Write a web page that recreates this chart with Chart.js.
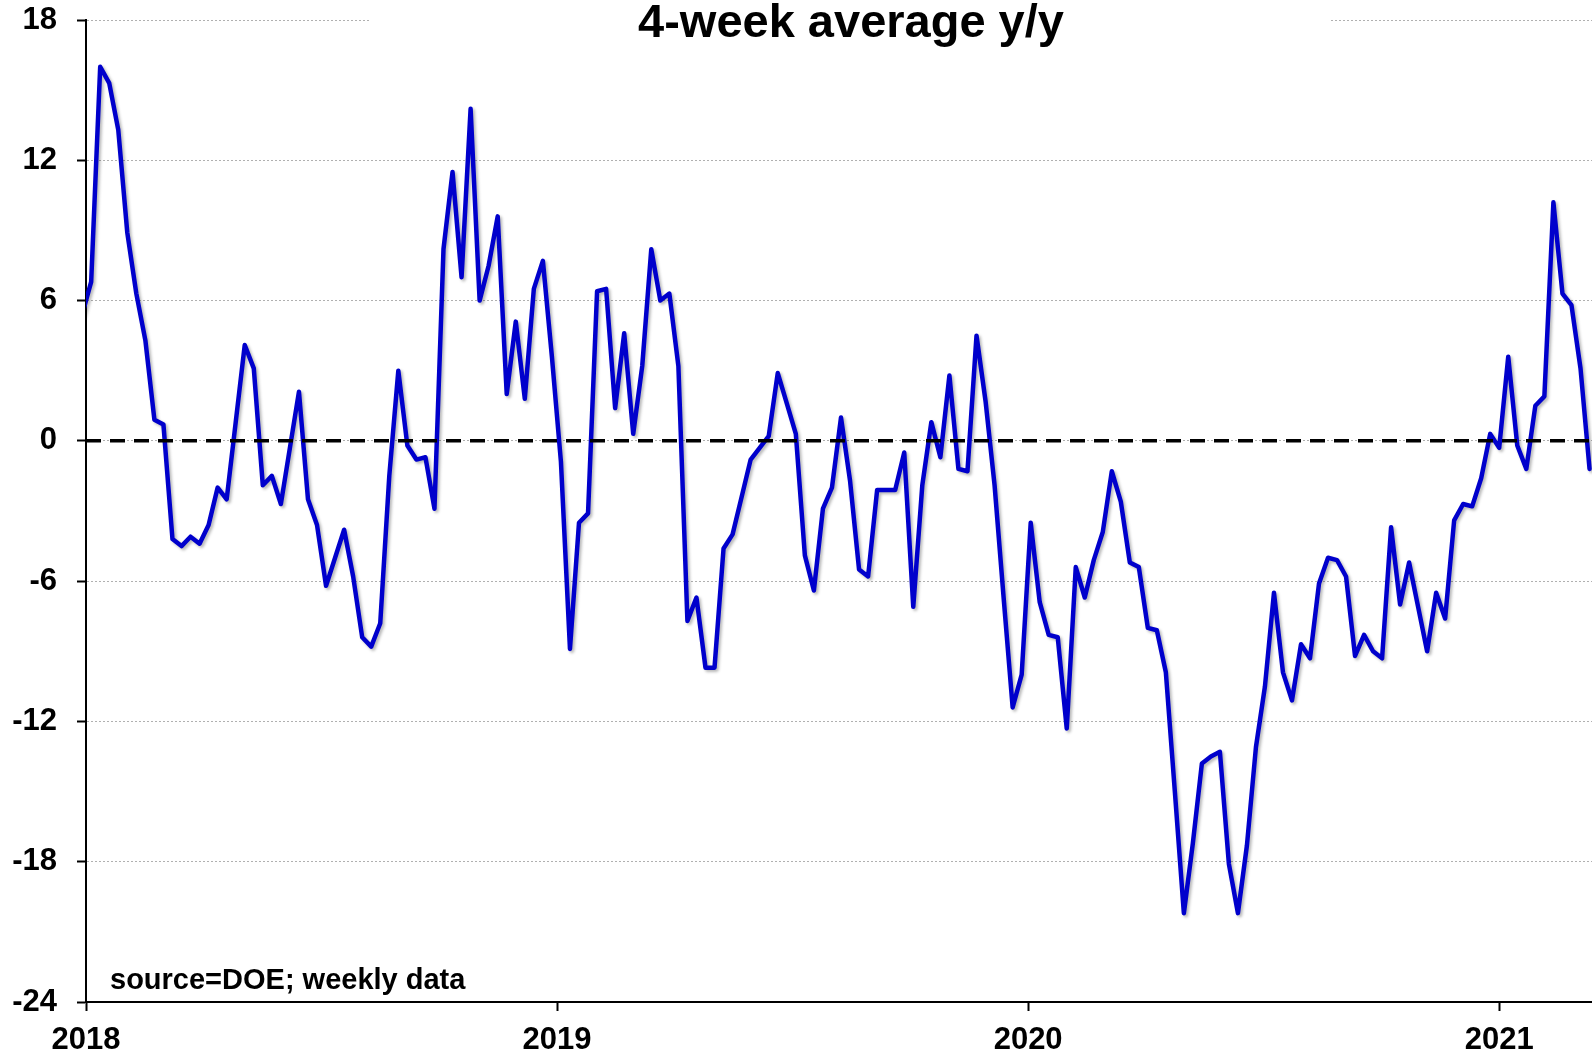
<!DOCTYPE html>
<html>
<head>
<meta charset="utf-8">
<title>4-week average y/y</title>
<script src="https://cdn.jsdelivr.net/npm/chart.js@4.4.0/dist/chart.umd.min.js"></script>
<style>
  html, body { margin: 0; padding: 0; background: #fff; }
  canvas { display: block; }
</style>
</head>
<body>
<canvas id="yoyChart" width="1592" height="1055"></canvas>
<script>
const TITLE = '4-week average y/y';
const SOURCE = 'source=DOE; weekly data';

// weekly readings, Friday week-ending dates starting here
const FIRST_WEEK = '2017-12-29';

// 4-week average, % change y/y
const yoyValues = [
   5.4,  6.8, 16.0, 15.3, 13.3,  8.9,  6.3,  4.3,  0.9,  0.7, -4.2, -4.5,
  -4.1, -4.4, -3.6, -2.0, -2.5,  0.8,  4.1,  3.1, -1.9, -1.5, -2.7, -0.3,
   2.1, -2.5, -3.6, -6.2, -5.0, -3.8, -5.8, -8.4, -8.8, -7.8, -1.5,  3.0,
  -0.2, -0.8, -0.7, -2.9,  8.2, 11.5,  7.0, 14.2,  6.0,  7.5,  9.6,  2.0,
   5.1,  1.8,  6.5,  7.7,  3.6, -0.9, -8.9, -3.5, -3.1,  6.4,  6.5,  1.4,
   4.6,  0.3,  3.2,  8.2,  6.0,  6.3,  3.2, -7.7, -6.7, -9.7, -9.7, -4.6,
  -4.0, -2.4, -0.8, -0.3,  0.2,  2.9,  1.6,  0.3, -4.9, -6.4, -2.9, -2.0,
   1.0, -1.7, -5.5, -5.8, -2.1, -2.1, -2.1, -0.5, -7.1, -1.9,  0.8, -0.7,
   2.8, -1.2, -1.3,  4.5,  1.7, -1.9, -6.7,-11.4,-10.0, -3.5, -6.9, -8.3,
  -8.4,-12.3, -5.4, -6.7, -5.1, -3.9, -1.3, -2.6, -5.2, -5.4, -8.0, -8.1,
  -9.9,-15.0,-20.2,-17.2,-13.8,-13.5,-13.3,-18.1,-20.2,-17.3,-13.1,-10.5,
  -6.5, -9.9,-11.1, -8.7, -9.3, -6.1, -5.0, -5.1, -5.8, -9.2, -8.3, -9.0,
  -9.3, -3.7, -7.0, -5.2, -7.1, -9.0, -6.5, -7.6, -3.4, -2.7, -2.8, -1.6,
   0.3, -0.3,  3.6, -0.2, -1.2,  1.5,  1.9, 10.2,  6.3,  5.8,  3.1, -1.2
];

const yearTicks = [2018, 2019, 2020, 2021];
const yMin = -24, yMax = 18, yStep = 6;
const xStart = 2018, xEnd = 2021.197;

const FONT = '"Liberation Sans", Arial, Helvetica, sans-serif';

function yearFraction(d) {
    const y = d.getUTCFullYear();
    const s = Date.UTC(y, 0, 1), e = Date.UTC(y + 1, 0, 1);
    return y + (d.getTime() - s) / (e - s);
}

const start = new Date(FIRST_WEEK + 'T00:00:00Z');
const points = yoyValues.map((v, i) => {
    const d = new Date(start.getTime() + i * 7 * 86400000);
    return { x: yearFraction(d), y: v };
});

// title sits on a white box that breaks the top gridline
const titlePlugin = {
    id: 'titleBox',
    afterDraw(chart) {
        const ctx = chart.ctx;
        ctx.save();
        ctx.fillStyle = '#fff';
        ctx.fillRect(370, 0, 960, 42);
        ctx.fillStyle = '#000';
        ctx.font = 'bold 47px ' + FONT;
        ctx.textAlign = 'center';
        ctx.textBaseline = 'alphabetic';
        ctx.fillText(TITLE, 851, 37);

        ctx.font = 'bold 29px ' + FONT;
        ctx.textAlign = 'left';
        ctx.fillText(SOURCE, 110, 989);
        ctx.restore();
    }
};

// soft drop shadow under the blue series
const shadowPlugin = {
    id: 'lineShadow',
    beforeDatasetDraw(chart, args) {
        if (args.index !== 1) return;
        const ctx = chart.ctx;
        ctx.save();
        ctx.shadowColor = 'rgba(0,0,0,0.28)';
        ctx.shadowBlur = 3;
        ctx.shadowOffsetX = 2;
        ctx.shadowOffsetY = 2;
    },
    afterDatasetDraw(chart, args) {
        if (args.index !== 1) return;
        chart.ctx.restore();
    }
};

const tickFont = { family: FONT, size: 31, weight: 'bold' };

const ctx = document.getElementById('yoyChart').getContext('2d');
new Chart(ctx, {
    type: 'line',
    data: {
        datasets: [
            {
                // zero reference line, drawn on top
                data: [{ x: xStart, y: 0 }, { x: xEnd, y: 0 }],
                borderColor: '#000',
                borderWidth: 3.5,
                borderDash: [15, 9],
                pointRadius: 0,
                clip: 0
            },
            {
                label: TITLE,
                data: points,
                borderColor: '#0000cc',
                borderWidth: 4.5,
                borderJoinStyle: 'round',
                borderCapStyle: 'round',
                pointRadius: 0,
                tension: 0,
                clip: 0
            }
        ]
    },
    options: {
        responsive: false,
        animation: false,
        events: [],
        layout: { padding: { top: 20, right: 0, left: 0, bottom: 0 } },
        plugins: { legend: { display: false }, tooltip: { enabled: false } },
        scales: {
            x: {
                type: 'linear',
                min: xStart,
                max: xEnd,
                afterFit: s => { s.height = 53; s.paddingLeft = 0; s.paddingRight = 0; },
                afterBuildTicks: s => { s.ticks = yearTicks.map(v => ({ value: v })); },
                ticks: {
                    color: '#000',
                    font: tickFont,
                    padding: 11,
                    maxRotation: 0,
                    callback: v => String(v)
                },
                grid: {
                    drawOnChartArea: false,
                    drawTicks: true,
                    tickLength: 9,
                    tickWidth: 2,
                    tickColor: '#000'
                },
                border: { color: '#000', width: 2 }
            },
            y: {
                min: yMin,
                max: yMax,
                afterFit: s => { s.width = 86; s.paddingTop = 0; s.paddingBottom = 0; },
                ticks: {
                    stepSize: yStep,
                    color: '#000',
                    font: tickFont,
                    padding: 20
                },
                grid: {
                    color: '#b0b0b0',
                    lineWidth: 1,
                    drawTicks: true,
                    tickLength: 9,
                    tickWidth: 2,
                    tickColor: '#000',
                    tickBorderDash: []
                },
                border: { color: '#000', width: 2, dash: [2, 2] }
            }
        }
    },
    plugins: [shadowPlugin, titlePlugin]
});
</script>
</body>
</html>
